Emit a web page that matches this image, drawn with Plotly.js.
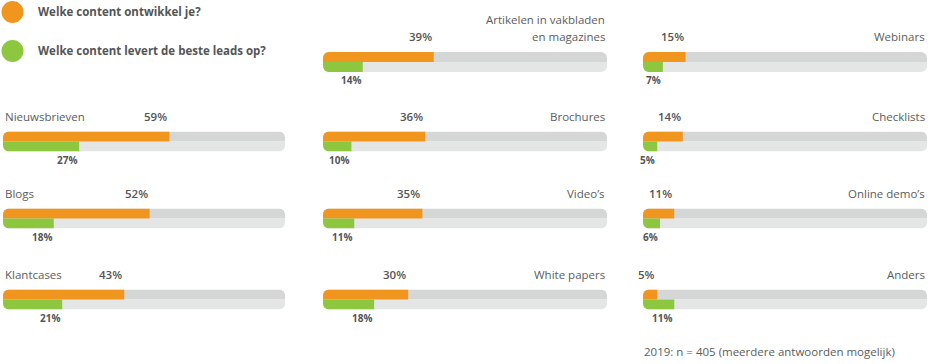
<!DOCTYPE html>
<html>
<head>
<meta charset="utf-8">
<script src="https://cdn.plot.ly/plotly-3.0.1.min.js"></script>
<style>
html,body{margin:0;padding:0;background:#fff;}
#chart{width:928px;height:364px;}
</style>
</head>
<body>
<div id="chart"></div>
<script>
// ---- data ----
const categories = ["Nieuwsbrieven", "Blogs", "Klantcases",
  "Artikelen in vakbladen<br>en magazines", "Brochures", "Video’s", "White papers",
  "Webinars", "Checklists", "Online demo’s", "Anders"];
const develop = [59, 52, 43, 39, 36, 35, 30, 15, 14, 11, 5];   // Welke content ontwikkel je?
const leads   = [27, 18, 21, 14, 10, 11, 18, 7, 5, 6, 11];     // Welke content levert de beste leads op?
const seriesNames = ["Welke content ontwikkel je?", "Welke content levert de beste leads op?"];
const footnote = "2019: n = 405 (meerdere antwoorden mogelijk)";

// ---- layout config ----
const W = 928, H = 364;
const panelPos = [[0,1],[0,2],[0,3],[1,0],[1,1],[1,2],[1,3],[2,0],[2,1],[2,2],[2,3]];
const colPx = [[3,285],[323,607],[643,927]];
const rowPx = [[52,72],[131.5,151.5],[208.5,228.5],[289.5,309.5]];
const C = {orange:"#f0961f", green:"#8dc63f", trackTop:"#d4d7d6", trackBot:"#e3e6e5", text:"#555555", label:"#5c5c5c"};
const FONT = "Open Sans, Noto Sans, sans-serif";

const traces = [];
const layout = {
  width: W, height: H,
  margin: {l:0, r:0, t:0, b:0},
  paper_bgcolor: "#fff", plot_bgcolor: "rgba(0,0,0,0)",
  barmode: "overlay", showlegend: false,
  font: {family: FONT, color: C.text},
  annotations: [], shapes: []
};

categories.forEach((cat, i) => {
  const n = i === 0 ? "" : String(i + 1);
  const xa = "x" + n, ya = "y" + n;
  const [c, r] = panelPos[i];
  layout["xaxis" + n] = {domain: [colPx[c][0] / W, colPx[c][1] / W], range: [0, 100], visible: false, fixedrange: true, anchor: ya};
  layout["yaxis" + n] = {domain: [1 - rowPx[r][1] / H, 1 - rowPx[r][0] / H], range: [-1, 1], visible: false, fixedrange: true, anchor: xa};
  const bar = (x, y, color) => ({type: "bar", orientation: "h", x: [x], y: [y], width: 1, base: 0,
    marker: {color: color, line: {width: 0}}, xaxis: xa, yaxis: ya, hoverinfo: "skip"});
  traces.push(bar(100, 0.5, C.trackTop));
  traces.push(bar(100, -0.5, C.trackBot));
  traces.push(bar(develop[i], 0.5, C.orange));
  traces.push(bar(leads[i], -0.5, C.green));

  const lines = cat.split("<br>");
  const left = c === 0;
  lines.forEach((ln, k) => {
    layout.annotations.push({text: ln, xref: xa, yref: ya + " domain", x: left ? 0 : 100, y: 1,
      xanchor: left ? "left" : "right", yanchor: "middle", align: left ? "left" : "right",
      yshift: 15 + (lines.length - 1 - k) * 17, showarrow: false, font: {size: 11.5, color: C.label, family: FONT}});
  });
  layout.annotations.push({text: develop[i] + "%", xref: xa, yref: ya + " domain", x: develop[i], y: 1,
    xanchor: "right", yanchor: "middle", yshift: 15, showarrow: false,
    font: {size: 11.5, color: C.text, family: FONT, weight: 600}});
  layout.annotations.push({text: "<b>" + leads[i] + "%</b>", xref: xa, yref: ya + " domain", x: leads[i], y: 0,
    xanchor: "right", yanchor: "middle", yshift: -8, showarrow: false,
    font: {size: 10, color: C.text, family: FONT}});
});

// legend
[[C.orange, 12], [C.green, 51]].forEach(([col, cy], k) => {
  layout.shapes.push({type: "circle", xref: "paper", yref: "paper", xsizemode: "pixel", ysizemode: "pixel",
    xanchor: 12.5 / W, yanchor: 1 - cy / H, x0: -11, x1: 11, y0: -11, y1: 11,
    fillcolor: col, line: {width: 0}});
  layout.annotations.push({text: "<b>" + seriesNames[k] + "</b>", xref: "paper", yref: "paper",
    x: 36 / W, y: 1 - cy / H, xanchor: "left", yanchor: "middle", showarrow: false,
    font: {size: 11.5, color: C.text, family: FONT}});
});

layout.annotations.push({text: footnote, xref: "paper", yref: "paper", x: 642 / W, y: 1 - 351 / H,
  xanchor: "left", yanchor: "middle", showarrow: false, font: {size: 11.5, color: C.label, family: FONT}});

const gd = document.getElementById("chart");
Plotly.newPlot(gd, traces, layout, {staticPlot: true, displayModeBar: false}).then(() => {
  // round the ends of each track by clipping its bar layer
  const fl = gd._fullLayout;
  const defs = gd.querySelector("svg.main-svg defs");
  const NS = "http://www.w3.org/2000/svg";
  const missing = [];
  categories.forEach((cat, i) => {
    const n = i === 0 ? "" : String(i + 1);
    const id = "x" + n + "y" + n;
    const xa = fl["xaxis" + n], ya = fl["yaxis" + n];
    const layer = gd.querySelector(".cartesianlayer .subplot." + id + " .barlayer");
    if (!layer || !defs) { missing.push(id); return; }
    const cp = document.createElementNS(NS, "clipPath");
    cp.setAttribute("id", "round_" + id);
    const rect = document.createElementNS(NS, "rect");
    rect.setAttribute("x", 0); rect.setAttribute("y", 0);
    rect.setAttribute("width", xa._length); rect.setAttribute("height", ya._length);
    rect.setAttribute("rx", 6); rect.setAttribute("ry", 6);
    cp.appendChild(rect); defs.appendChild(cp);
    layer.setAttribute("clip-path", "url(#round_" + id + ")");
  });
  if (missing.length) throw new Error("clip layer missing: " + missing.join(","));
});
</script>
</body>
</html>
